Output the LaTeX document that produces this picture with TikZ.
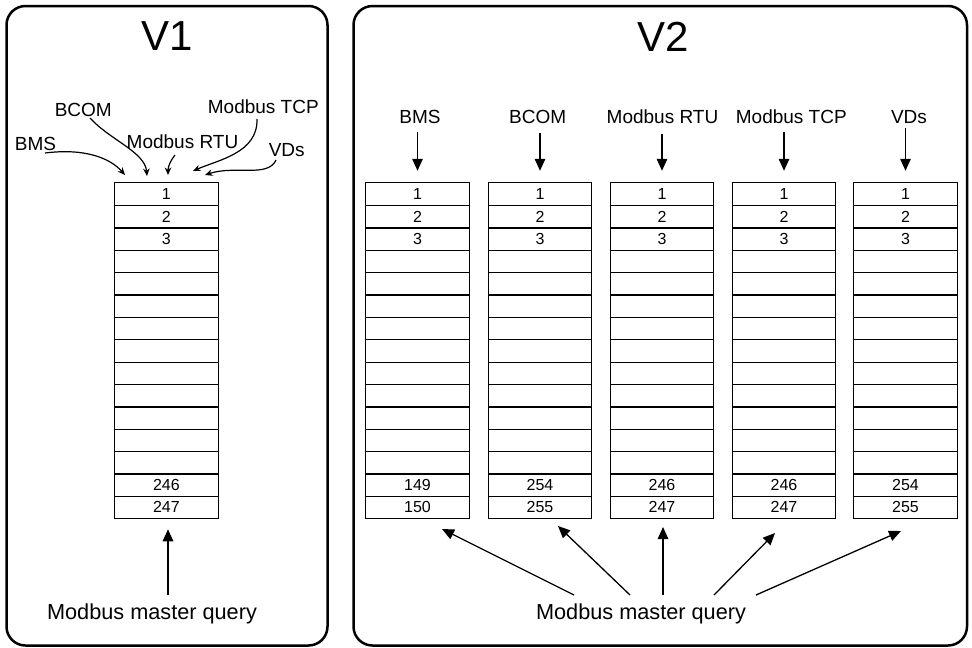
\documentclass[tikz,border=0pt]{standalone}
\usepackage{fontspec}
\setmainfont{Liberation Sans}
\usetikzlibrary{arrows.meta}
\begin{document}
\begin{tikzpicture}[x=1pt,y=-1pt,
  frame/.style={draw, line width=2.5pt, rounded corners=19pt},
  cell/.style={minimum width=103pt, minimum height=22.37pt, inner sep=0pt, font=\fontsize{16}{16}\selectfont, anchor=center},
  grid/.style={line width=1.2pt},
  lbl/.style={font=\fontsize{19}{19}\selectfont, anchor=base, inner sep=0pt},
  qry/.style={font=\fontsize{21.7}{21.7}\selectfont, anchor=base, inner sep=0pt},
  ttl/.style={font=\fontsize{42}{42}\selectfont, anchor=base, inner sep=0pt},
  big/.style={line width=1.3pt, -{Triangle[length=12pt,width=10.5pt]}},
  small/.style={line width=1.2pt, -{Stealth[length=7.5pt,width=6.5pt]}},
]
\useasboundingbox (0,0) rectangle (972,648);

% frames
\draw[frame] (6.5,6) rectangle (327.5,645.5);
\draw[frame] (353.5,6) rectangle (967,645.5);

% titles
\node[ttl] (tv1) at (167,50.7) {V1};
\node[ttl] (tv2) at (663,51.7) {V2};

% tables
\foreach \tn/\x/\a/\b in {v1/166.4/246/247, b1/417.5/149/150, b2/540/254/255, b3/662/246/247, b4/784/246/247, b5/905.5/254/255}{
  \foreach \r in {1,...,15}{
    \ifnum\r<4 \def\txt{\r}\else\ifnum\r=14 \def\txt{\a}\else\ifnum\r=15 \def\txt{\b}\else\def\txt{}\fi\fi\fi
    \node[cell] (\tn-\r) at (\x,{183+(\r-0.5)*22.37}) {\txt};
  }
  \draw[grid] (\tn-1.north west) rectangle (\tn-15.south east);
  \foreach \r in {1,...,14}{
    \draw[grid] (\tn-\r.south west) -- (\tn-\r.south east);
  }
}

% V1 labels
\node[lbl] (l1bms) at (35.5,150) {BMS};
\node[lbl] (l1bcom) at (83.3,116) {BCOM};
\node[lbl] (l1rtu) at (182.5,148.3) {Modbus RTU};
\node[lbl] (l1tcp) at (263.3,113.3) {Modbus TCP};
\node[lbl] (l1vds) at (286.7,156) {VDs};

% V1 curved arrows
\coordinate (c1s) at (45,153);  \coordinate (c1e) at (125,175);
\coordinate (c2s) at (90,118);  \coordinate (c2e) at (147,176);
\coordinate (c3s) at (175,155); \coordinate (c3e) at (168,175);
\coordinate (c4s) at (257,119); \coordinate (c4e) at (193,171);
\coordinate (c5s) at (276,160); \coordinate (c5e) at (205,175);
\draw[small] (c1s) .. controls (85,148) and (110,158) .. (c1e);
\draw[small] (c2s) .. controls (110,140) and (145,152) .. (c2e);
\draw[small] (c3s) .. controls (171,160) and (168,166) .. (c3e);
\draw[small] (c4s) .. controls (258,153) and (218,160) .. (c4e);
\draw[small] (c5s) .. controls (268,178) and (235,165) .. (c5e);

% V1 bottom
\node[qry] (q1) at (152,619.3) {Modbus master query};
\coordinate (q1s) at (168,595);
\draw[big, shorten >=10.5pt] (q1s) -- (q1s |- v1-15.south);

% V2 labels
\node[lbl] (l2bms) at (420,123.3) {BMS};
\node[lbl] (l2bcom) at (537.7,123.3) {BCOM};
\node[lbl] (l2rtu) at (662.5,123.3) {Modbus RTU};
\node[lbl] (l2tcp) at (791.3,123.3) {Modbus TCP};
\node[lbl] (l2vds) at (909,123) {VDs};

% V2 top arrows
\foreach \tn/\y in {b1/132, b2/133, b3/134, b4/132, b5/128}{
  \coordinate (s-\tn) at (\tn-1.north |- 0,\y);
  \draw[big, shorten >=12pt] (s-\tn) -- (\tn-1.north);
}

% V2 bottom
\node[qry] (q2) at (641,619.3) {Modbus master query};
\coordinate (t1) at (574,595); \coordinate (h1) at (442,529);
\coordinate (t2) at (630,595); \coordinate (h2) at (558,526);
\coordinate (t3) at (663,595); \coordinate (h3) at (663,527);
\coordinate (t4) at (714,595); \coordinate (h4) at (775,533);
\coordinate (t5) at (756,595); \coordinate (h5) at (901,531);
\foreach \i in {1,...,5}{
  \draw[big] (t\i) -- (h\i);
}
\end{tikzpicture}
\end{document}
